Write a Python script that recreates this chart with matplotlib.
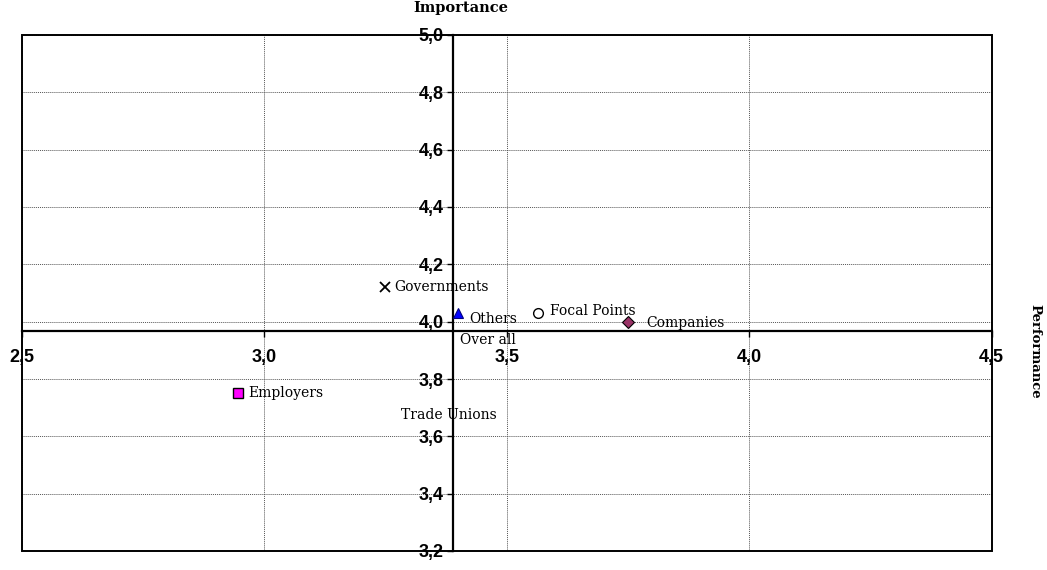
import matplotlib
matplotlib.use("Agg")
import matplotlib.pyplot as plt
from matplotlib.patches import Rectangle
from matplotlib.ticker import FixedLocator, FuncFormatter

# Stakeholder groups: performance (x) vs importance (y)
groups = ["Governments", "Others", "Focal Points", "Companies", "Employers", "Trade Unions"]
performance = [3.25, 3.40, 3.565, 3.75, 2.945, 3.27]
importance = [4.12, 4.03, 4.03, 4.00, 3.75, 3.675]

overall_perf = 3.39
overall_imp = 3.968

x_ticks = [2.5, 3.0, 3.5, 4.0, 4.5]
y_ticks = [3.2, 3.4, 3.6, 3.8, 4.0, 4.2, 4.4, 4.6, 4.8, 5.0]

styles = {
    "Governments": dict(marker="x", color="black", ms=7, mew=1.3),
    "Others": dict(marker="^", mfc="#0000ff", mec="#000080", ms=7, mew=0.8),
    "Focal Points": dict(marker="o", mfc="white", mec="black", ms=7, mew=1.0),
    "Companies": dict(marker="D", mfc="#993366", mec="black", ms=6, mew=0.8),
    "Employers": dict(marker="s", mfc="#ff00ff", mec="black", ms=7, mew=1.0),
    "Trade Unions": dict(marker="none"),
}
# label offsets in points (dx, dy)
offsets = {
    "Governments": (6, 0),
    "Others": (8, -4),
    "Focal Points": (8.5, 1.5),
    "Companies": (13, -1),
    "Employers": (8, 0),
    "Trade Unions": (4, 0),
}

fig = plt.figure(figsize=(10.47, 5.70), dpi=100)
ax = fig.add_axes([21.7 / 1047, 19 / 570, 970 / 1047, 516 / 570])
ax.set_xlim(2.5, 4.5)
ax.set_ylim(3.2, 5.0)

# quadrant axes cross at the overall average
for side in ("top", "right"):
    ax.spines[side].set_visible(False)
ax.spines["left"].set_position(("data", overall_perf))
ax.spines["bottom"].set_position(("data", overall_imp))
ax.spines["left"].set_linewidth(1.6)
ax.spines["bottom"].set_linewidth(1.6)
ax.add_patch(Rectangle((0, 0), 1, 1, transform=ax.transAxes, fill=False,
                       lw=1.4, ec="black", zorder=5, clip_on=False))

ax.xaxis.set_major_locator(FixedLocator(x_ticks))
ax.yaxis.set_major_locator(FixedLocator(y_ticks))
fmt = FuncFormatter(lambda v, p: f"{v:.1f}".replace(".", ","))
ax.xaxis.set_major_formatter(fmt)
ax.yaxis.set_major_formatter(fmt)
ax.tick_params(axis="both", direction="out", length=4, width=1,
               labelsize=13)
ax.tick_params(axis="x", pad=9)
ax.tick_params(axis="y", pad=3)
for lab in ax.get_xticklabels() + ax.get_yticklabels():
    lab.set_fontweight("bold")
    lab.set_family("Liberation Sans")
ax.grid(True, color="#555555", linestyle=(0, (1, 1)), linewidth=0.7)

serif = "DejaVu Serif"
for g, x, y in zip(groups, performance, importance):
    ax.plot([x], [y], linestyle="none", zorder=6, **styles[g])
    dx, dy = offsets[g]
    ax.annotate(g, (x, y), xytext=(dx, dy), textcoords="offset points",
                ha="left", va="center", fontsize=10, family=serif, zorder=7)

ax.plot([overall_perf], [overall_imp], marker="+", color="black", ms=9,
        mew=1.3, linestyle="none", zorder=6)
ax.annotate("Over all", (overall_perf, overall_imp), xytext=(5, -1.5),
            textcoords="offset points", ha="left", va="top",
            fontsize=10, family=serif, zorder=7)

fig.text(461 / 1047, 1 - 1 / 570, "Importance", ha="center", va="top",
         fontsize=10.5, fontweight="bold", family=serif)
fig.text(1035 / 1047, 1 - 351 / 570, "Performance", ha="center", va="center",
         rotation=270, fontsize=9.5, fontweight="bold", family=serif)

fig.savefig("out.png", dpi=100)
